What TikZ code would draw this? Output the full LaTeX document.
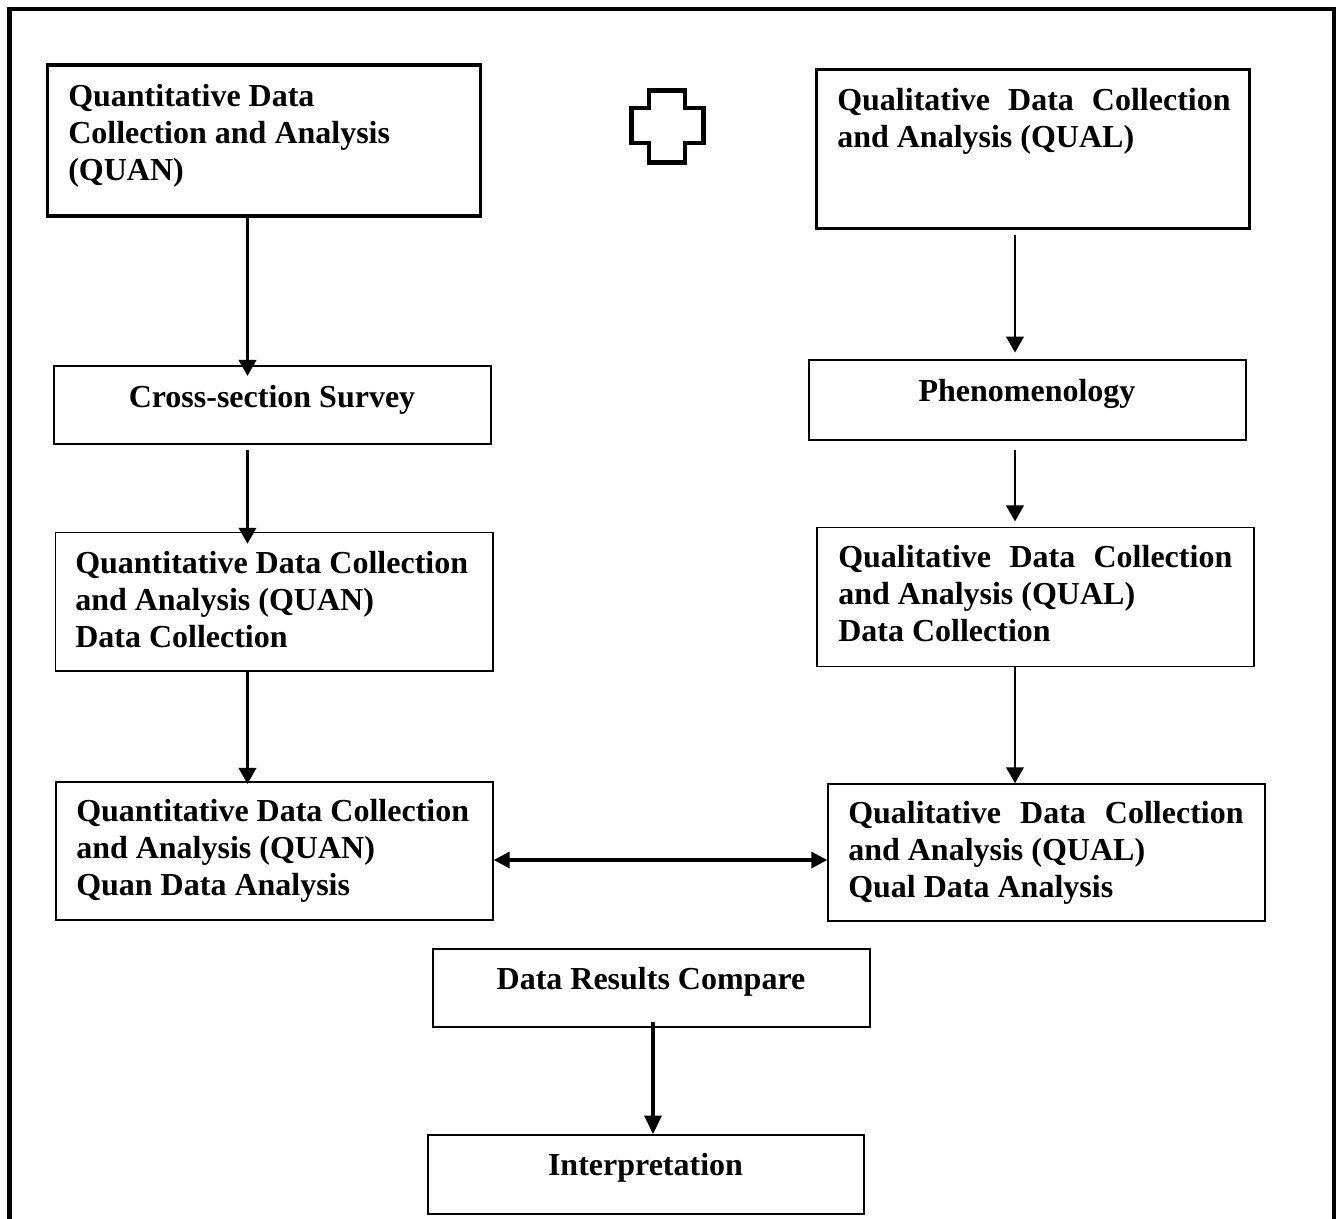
\documentclass[tikz,border=0pt]{standalone}
\usepackage{fontspec}
\setmainfont{Liberation Serif}
\usetikzlibrary{arrows.meta}
\tikzset{
  thickbox/.style={draw, line width=2.3pt, rectangle, inner sep=0pt},
  thinbox/.style={draw, line width=1.1pt, rectangle, inner sep=0pt},
  txt/.style={inner sep=0pt, font=\fontsize{24}{27.75}\selectfont\bfseries, align=left},
  arr/.style={line width=2pt, -{Triangle[length=12pt,width=13pt]}},
  darr/.style={line width=2.5pt, {Triangle[length=12pt,width=12pt]}-{Triangle[length=12pt,width=12pt]}},
  barr/.style={line width=3pt, -{Triangle[length=14pt,width=12.5pt]}},
}
\begin{document}
\begin{tikzpicture}[x=0.75pt,y=-0.75pt]
\useasboundingbox (0,0) rectangle (1341,1218);
\begin{scope}
\clip (0,0) rectangle (1341,1218);
\draw[line width=3.4pt] (9.5,1240) -- (9.5,9) -- (1334,9) -- (1334,1240);
\end{scope}
% plus sign
\draw[line width=3.5pt] (649,90.5) -- (685,90.5) -- (685,108) -- (703.5,108) -- (703.5,143) -- (685,143) -- (685,162.5) -- (649,162.5) -- (649,143) -- (631.5,143) -- (631.5,108) -- (649,108) -- cycle;
% boxes
\node[thickbox, minimum width=433.3*0.75pt, minimum height=151*0.75pt] (b1) at (264.3,140.5) {};
\node[thickbox, minimum width=432.7*0.75pt, minimum height=158.3*0.75pt] (b2) at (1032.7,148.9) {};
\node[thinbox, minimum width=437*0.75pt, minimum height=78*0.75pt] (cs) at (272.5,405) {};
\node[thinbox, minimum width=437*0.75pt, minimum height=80*0.75pt] (ph) at (1027.5,400) {};
\node[thinbox, minimum width=437.5*0.75pt, minimum height=138.5*0.75pt] (qdc) at (274.25,601.75) {};
\node[thinbox, minimum width=437*0.75pt, minimum height=139*0.75pt] (ldc) at (1035.5,597) {};
\node[thinbox, minimum width=437*0.75pt, minimum height=138*0.75pt] (qda) at (274.5,851) {};
\node[thinbox, minimum width=437*0.75pt, minimum height=137*0.75pt] (lda) at (1046.5,852.5) {};
\node[thinbox, minimum width=437*0.75pt, minimum height=78*0.75pt] (drc) at (651.5,988) {};
\node[thinbox, minimum width=436*0.75pt, minimum height=79*0.75pt] (int) at (646,1174.5) {};
% texts
\node[txt, anchor=north west] (t1) at (68,84) {Quantitative Data\\Collection and Analysis\\(QUAN)};
\node[txt, anchor=north west] (t2) at (837,88) {\makebox[295pt][s]{Qualitative Data Collection}\\and Analysis (QUAL)};
\node[txt, anchor=base] (t3) at (272,407) {Cross-section Survey};
\node[txt, anchor=base] (t4) at (1027,401) {Phenomenology};
\node[txt, anchor=north west] (t5) at (75,551) {Quantitative Data Collection\\and Analysis (QUAN)\\Data Collection};
\node[txt, anchor=north west] (t6) at (838,545) {\makebox[295.5pt][s]{Qualitative Data Collection}\\and Analysis (QUAL)\\Data Collection};
\node[txt, anchor=north west] (t7) at (76,799) {Quantitative Data Collection\\and Analysis (QUAN)\\Quan Data Analysis};
\node[txt, anchor=north west] (t8) at (848,801) {\makebox[296.5pt][s]{Qualitative Data Collection}\\and Analysis (QUAL)\\Qual Data Analysis};
\node[txt, anchor=base] (t9) at (651,989) {Data Results Compare};
\node[txt, anchor=base] (t10) at (645.5,1175) {Interpretation};
% arrows
\coordinate (lx) at (247.5,0);
\coordinate (rx) at (1015,0);
\coordinate (bx) at (653,0);
\coordinate (my) at (0,860);
\draw[arr, shorten >=-8pt] (b1.south -| lx) -- (cs.north -| lx);
\draw[arr, shorten <=3.75pt, shorten >=-9pt] (cs.south -| lx) -- (qdc.north -| lx);
\draw[arr, shorten >=-2pt] (qdc.south -| lx) -- (qda.north -| lx);
\draw[arr, shorten <=4pt, shorten >=5pt] (b2.south -| rx) -- (ph.north -| rx);
\draw[arr, shorten <=7pt, shorten >=4pt] (ph.south -| rx) -- (ldc.north -| rx);
\draw[arr] (ldc.south -| rx) -- (lda.north -| rx);
\draw[darr] (qda.east |- my) -- (lda.west |- my);
\draw[barr, shorten <=-4pt] (drc.south -| bx) -- (int.north -| bx);
\end{tikzpicture}
\end{document}
